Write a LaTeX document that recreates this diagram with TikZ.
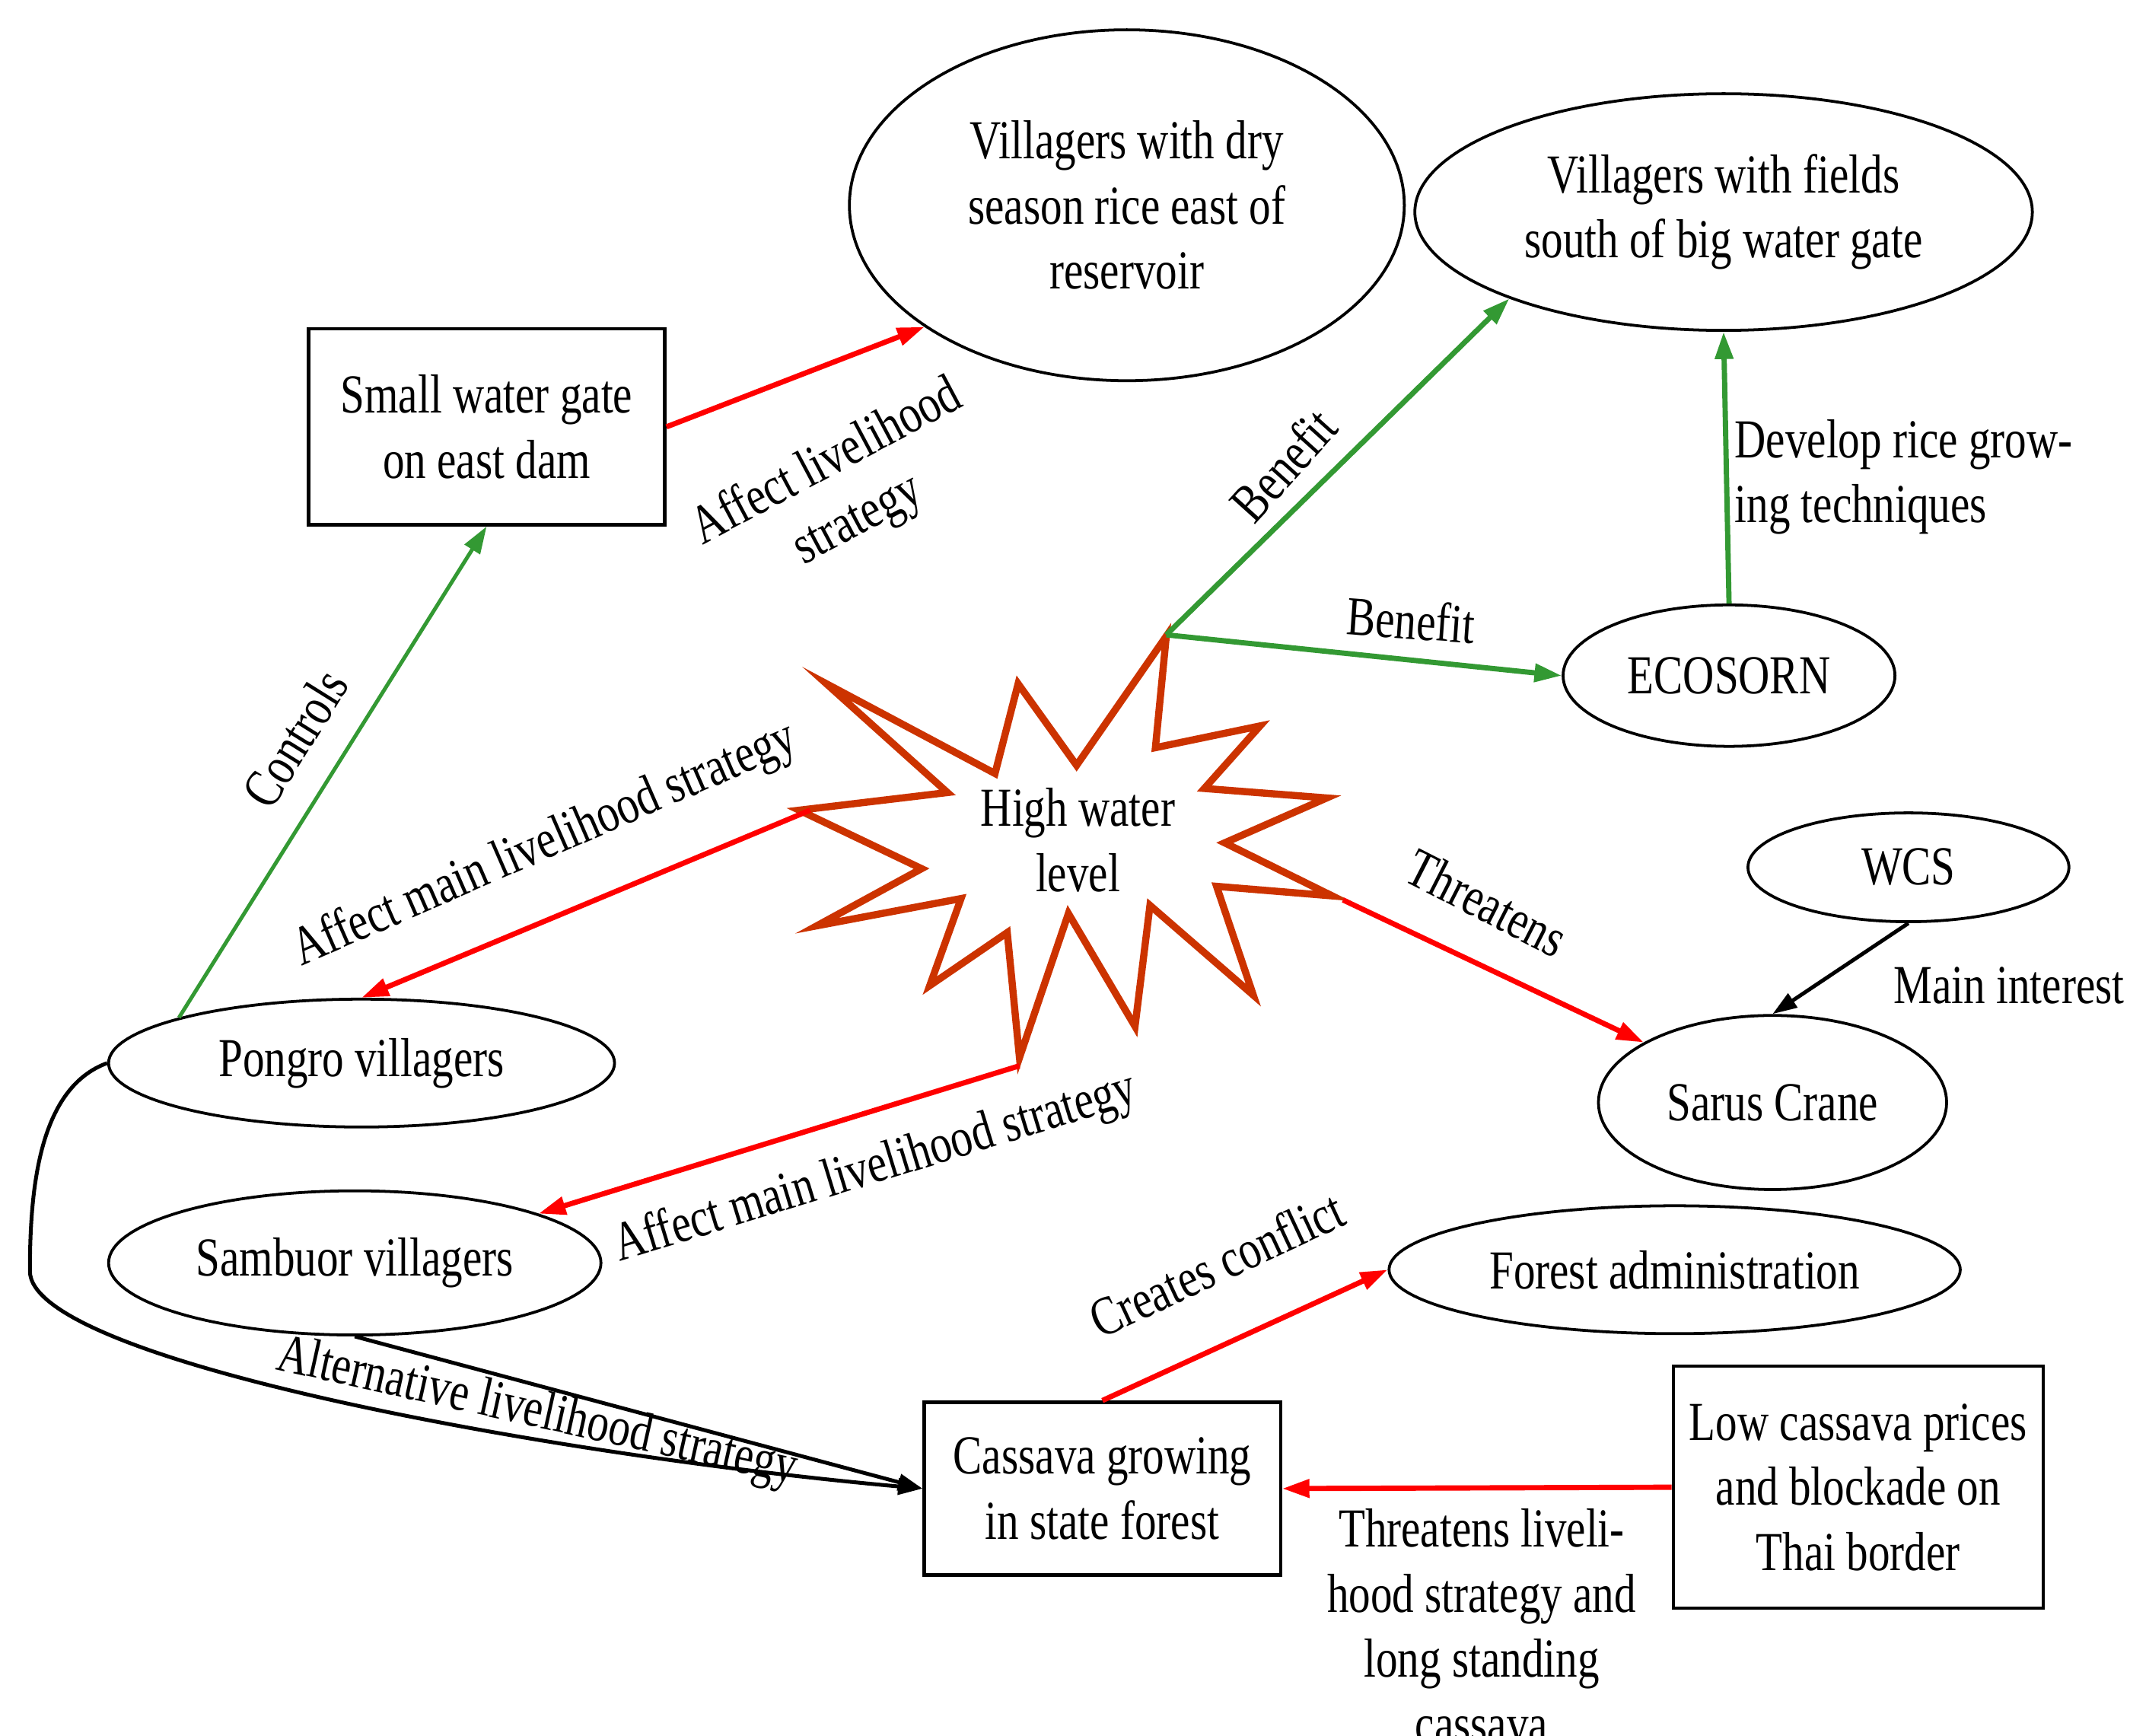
\documentclass[tikz,border=0pt]{standalone}
\usepackage{fontspec}
\setmainfont{Liberation Serif}[FakeStretch=0.79]
\usetikzlibrary{arrows.meta, shapes.geometric}

\begin{document}
\begin{tikzpicture}[x=0.01cm, y=-0.01cm, font=\fontsize{11.5pt}{13.6pt}\selectfont,
  box/.style={rectangle, draw, line width=0.7pt, align=center, inner sep=0pt},
  oval/.style={ellipse, draw, line width=0.6pt, align=center, inner sep=0pt},
  lbl/.style={align=center, inner sep=1pt},
  redarr/.style={draw=arrred, line width=1.1pt, -{Triangle[length=0.2cm, width=0.13cm]}},
  greenarr/.style={draw=arrgreen, line width=1.1pt, -{Triangle[length=0.2cm, width=0.13cm]}},
  blackarr/.style={draw=black, line width=0.8pt, -{Triangle[length=0.18cm, width=0.12cm]}}]
  % Colours
  \definecolor{arrred}{RGB}{255,0,0}       % Red arrows
  \definecolor{arrgreen}{RGB}{51,153,51}   % Green arrows
  \definecolor{starcolor}{RGB}{204,51,0}   % Burst outline

  \useasboundingbox (0,0) rectangle (1567,1277);

  % Actors and issues
  \node[box, minimum width=2.62cm, minimum height=1.44cm] (gate) at (358,314) {Small water gate\\on east dam};
  \node[oval, minimum width=4.08cm, minimum height=2.58cm] (dry) at (829,151) {Villagers with dry\\season rice east of\\reservoir};
  \node[oval, minimum width=4.54cm, minimum height=1.74cm] (fields) at (1268,156) {Villagers with fields\\south of big water gate};
  \node[oval, minimum width=2.44cm, minimum height=1.04cm] (eco) at (1272,497) {ECOSORN};
  \node[oval, minimum width=2.36cm, minimum height=0.80cm] (wcs) at (1404,638) {WCS};
  \node[oval, minimum width=2.56cm, minimum height=1.28cm] (sarus) at (1304,811) {Sarus Crane};
  \node[oval, minimum width=4.20cm, minimum height=0.94cm] (forest) at (1232,934) {Forest administration};
  \node[box, minimum width=2.72cm, minimum height=1.78cm] (low) at (1367,1094) {Low cassava prices\\and blockade on\\Thai border};
  \node[box, minimum width=2.62cm, minimum height=1.27cm] (cassava) at (811,1095) {Cassava growing\\in state forest};
  \node[oval, minimum width=3.72cm, minimum height=0.94cm] (pongro) at (266,782) {Pongro villagers};
  \node[oval, minimum width=3.62cm, minimum height=1.06cm] (sambuor) at (261,929) {Sambuor villagers};

  % High water level burst
  \draw[starcolor, line width=1.5pt, line join=miter] (858,468) -- (850,550) -- (927,534) -- (886,580) -- (976,587) -- (901,620)
    -- (980,659) -- (895,652) -- (922,732) -- (846,666) -- (835,755) -- (786,672) -- (750,778) -- (741,686)
    -- (684,725) -- (707,661) -- (601,681) -- (678,639) -- (588,596) -- (697,583) -- (608,503) -- (732,569)
    -- (749,503) -- (792,563) -- cycle;
  \node[lbl] (hwl) at (793,618) {High water\\level};
  \coordinate (hwT) at (858,467);
  \coordinate (hwL) at (596,596);
  \coordinate (hwB) at (750,784);
  \coordinate (hwR) at (988,662);

  % Connectors
  \draw[greenarr, line width=0.8pt] (pongro.166) -- (gate.south);
  \draw[redarr] (gate.east) -- (dry.211);
  \draw[greenarr] (hwT) -- (fields.202);
  \draw[greenarr] (hwT) -- (eco.west);
  \draw[greenarr] (eco.north) -- (fields.south);
  \draw[redarr] (hwL) -- (pongro.north);
  \draw[redarr] (hwB) -- (sambuor.15);
  \draw[redarr] (hwR) -- (sarus.155);
  \draw[blackarr] (wcs.south) -- (sarus.north);
  \draw[redarr] (cassava.north) -- (forest.west);
  \draw[redarr] (low.west) -- (cassava.east);
  \draw[blackarr] (pongro.west) .. controls (30,800) and (22,870) .. (22,935) .. controls (22,1000) and (400,1070) .. (cassava.west);
  \draw[blackarr] (sambuor.south) -- (cassava.west);

  % Connector labels
  \node[lbl, rotate=28] (lblaffect) at (620,362) {Affect livelihood\\strategy};
  \node[lbl, rotate=58] (lblcontrols) at (217,543) {Controls};
  \node[lbl, rotate=48] (lblbenefita) at (944,342) {Benefit};
  \node[lbl, rotate=-4] (lblbenefitb) at (1038,456) {Benefit};
  \node[lbl, align=left, anchor=west] (lbldevelop) at (1272,351) {Develop rice grow-\\ing techniques};
  \node[lbl, rotate=23.5] (lblmaina) at (401,622) {Affect main livelihood strategy};
  \node[lbl, rotate=17] (lblmainb) at (644,860) {Affect main livelihood strategy};
  \node[lbl, rotate=-27] (lblthreat) at (1094,664) {Threatens};
  \node[lbl] (lblinterest) at (1478,725) {Main interest};
  \node[lbl, rotate=25] (lblconflict) at (895,930) {Creates conflict};
  \node[lbl, rotate=-12.5] (lblalt) at (395,1040) {Alternative livelihood strategy};
  \node[lbl] (lblthreatb) at (1090,1196) {Threatens liveli-\\hood strategy and\\long standing\\cassava};
\end{tikzpicture}
\end{document}
